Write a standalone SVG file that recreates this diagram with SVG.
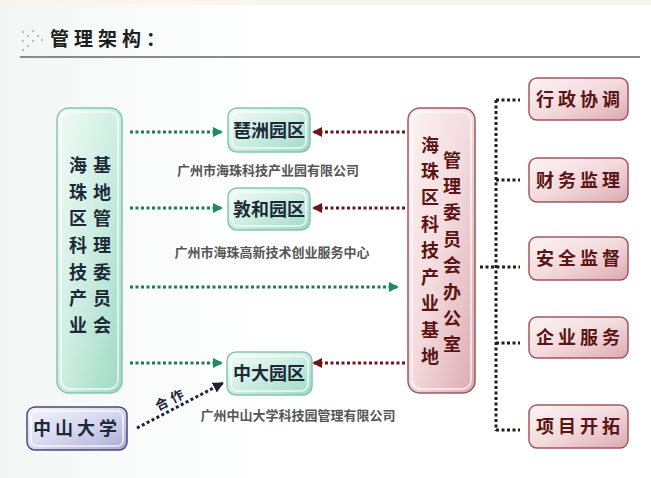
<svg xmlns="http://www.w3.org/2000/svg" width="651" height="478" viewBox="0 0 651 478">
<defs>
<linearGradient id="gg" x1="0" y1="0" x2="1" y2="1">
<stop offset="0" stop-color="#f2fbf7"/><stop offset="0.5" stop-color="#cdeee2"/><stop offset="1" stop-color="#9fd8c4"/>
</linearGradient>
<linearGradient id="pg" x1="0" y1="0" x2="1" y2="1">
<stop offset="0" stop-color="#fdf3f4"/><stop offset="0.5" stop-color="#f3dadd"/><stop offset="1" stop-color="#dcaab0"/>
</linearGradient>
<linearGradient id="vg" x1="0" y1="0" x2="1" y2="1">
<stop offset="0" stop-color="#f4f4fc"/><stop offset="0.5" stop-color="#d8d8f0"/><stop offset="1" stop-color="#a9a9d4"/>
</linearGradient>
<linearGradient id="bg" x1="0" y1="0" x2="1" y2="0">
<stop offset="0" stop-color="#f1f7f5"/><stop offset="0.4" stop-color="#ffffff"/>
</linearGradient>
<marker id="ag" viewBox="0 0 10 10" refX="9" refY="5" markerWidth="10" markerHeight="10" markerUnits="userSpaceOnUse" orient="auto">
<path d="M0,0 L10,5 L0,10 z" fill="#1f8a66"/>
</marker>
<marker id="ar" viewBox="0 0 10 10" refX="9" refY="5" markerWidth="10" markerHeight="10" markerUnits="userSpaceOnUse" orient="auto">
<path d="M0,0 L10,5 L0,10 z" fill="#6e1616"/>
</marker>
<marker id="an" viewBox="0 0 10 10" refX="9" refY="5" markerWidth="11" markerHeight="11" markerUnits="userSpaceOnUse" orient="auto">
<path d="M0,0 L10,5 L0,10 z" fill="#1d2238"/>
</marker>
</defs>
<style>
.cjk{font-family:"Noto Sans CJK SC","Noto Sans",sans-serif;font-weight:bold}
.gbox{fill:url(#gg);stroke:#86c6b0;stroke-width:1.5}
.pbox{fill:url(#pg);stroke:#9c5a60;stroke-width:1.5}
.vbox{fill:url(#vg);stroke:#4a4a7a;stroke-width:1.5}
.inner{fill:none;stroke:#ffffff;stroke-opacity:0.8;stroke-width:1.5}
.gt{fill:#1b2a36;font-size:18px}
.pt{fill:#5a1414;font-size:18px}
.cap{fill:#555555;font-size:13px;font-weight:bold}
.dg{stroke:#1f7a5c;stroke-width:3;stroke-dasharray:3 2.5;fill:none}
.dr{stroke:#6e1616;stroke-width:3;stroke-dasharray:3 2.5;fill:none}
.dk{stroke:#2a1a1a;stroke-width:3;stroke-dasharray:3 2.5;fill:none}
.dn{stroke:#1d2238;stroke-width:3;stroke-dasharray:3 2.5;fill:none}
</style>
<rect width="651" height="478" fill="url(#bg)"/>
<rect width="651" height="5" fill="#fbf5ec"/>
<g id="title">
<g fill="#b8c0c0">
<circle cx="23" cy="32" r="1.2"/><circle cx="28" cy="36" r="1.2"/><circle cx="23" cy="41" r="1.2"/><circle cx="28" cy="46" r="1.2"/><circle cx="23" cy="50" r="1.2"/>
<circle cx="33" cy="31" r="1.2"/><circle cx="38" cy="36" r="1.2"/><circle cx="33" cy="41" r="1.2"/><circle cx="42" cy="40" r="1.2"/>
</g>
<text x="50" y="46" class="cjk" font-size="19" fill="#1e1e1e" letter-spacing="5">管理架构：</text>
<line x1="20" y1="57" x2="640" y2="57" stroke="#8a8a8a" stroke-width="2"/>
</g>
<g id="connectors">
<line class="dg" x1="130" y1="132" x2="222" y2="132" marker-end="url(#ag)"/>
<line class="dg" x1="130" y1="208" x2="222" y2="208" marker-end="url(#ag)"/>
<line class="dg" x1="130" y1="287" x2="398" y2="287" marker-end="url(#ag)"/>
<line class="dg" x1="130" y1="363" x2="222" y2="363" marker-end="url(#ag)"/>
<line class="dr" x1="405" y1="132" x2="313" y2="132" marker-end="url(#ar)"/>
<line class="dr" x1="405" y1="208" x2="313" y2="208" marker-end="url(#ar)"/>
<line class="dr" x1="405" y1="363" x2="313" y2="363" marker-end="url(#ar)"/>
<line class="dk" x1="496" y1="100" x2="496" y2="431"/>
<line class="dk" x1="496" y1="100" x2="520" y2="100"/>
<line class="dk" x1="496" y1="180" x2="520" y2="180"/>
<line class="dk" x1="480" y1="267" x2="520" y2="267"/>
<line class="dk" x1="496" y1="343" x2="520" y2="343"/>
<line class="dk" x1="496" y1="430" x2="520" y2="430"/>
<line class="dn" x1="137" y1="428" x2="223" y2="383" marker-end="url(#an)"/>
<text class="cjk" font-size="13" fill="#1d2238" letter-spacing="4" transform="translate(158,411) rotate(-27)">合作</text>
</g>
<g id="n-jidi">
<rect class="gbox" x="57" y="108" width="65" height="285" rx="12"/>
<rect class="inner" x="61" y="112" width="57" height="277" rx="9"/>
<g class="cjk gt" font-size="19" text-anchor="middle">
<text x="78" y="172">海</text><text x="78" y="199">珠</text><text x="78" y="225">区</text><text x="78" y="252">科</text><text x="78" y="279">技</text><text x="78" y="305">产</text><text x="78" y="332">业</text>
<text x="102" y="172">基</text><text x="102" y="199">地</text><text x="102" y="225">管</text><text x="102" y="252">理</text><text x="102" y="279">委</text><text x="102" y="305">员</text><text x="102" y="332">会</text>
</g>
</g>
<g id="n-pazhou">
<rect class="gbox" x="228" y="108" width="82" height="44" rx="9"/>
<rect class="inner" x="232" y="112" width="74" height="36" rx="7"/>
<text class="cjk gt" x="269" y="137" text-anchor="middle">琶洲园区</text>
<text class="cjk cap" x="268" y="175" text-anchor="middle">广州市海珠科技产业园有限公司</text>
</g>
<g id="n-dunhe">
<rect class="gbox" x="228" y="188" width="82" height="42" rx="9"/>
<rect class="inner" x="232" y="192" width="74" height="34" rx="7"/>
<text class="cjk gt" x="269" y="216" text-anchor="middle">敦和园区</text>
<text class="cjk cap" x="272" y="257" text-anchor="middle">广州市海珠高新技术创业服务中心</text>
</g>
<g id="n-zhongda">
<rect class="gbox" x="227" y="352" width="85" height="43" rx="9"/>
<rect class="inner" x="231" y="356" width="77" height="35" rx="7"/>
<text class="cjk gt" x="269" y="380" text-anchor="middle">中大园区</text>
<text class="cjk cap" x="298" y="420" text-anchor="middle">广州中山大学科技园管理有限公司</text>
</g>
<g id="n-zsu">
<rect class="vbox" x="27" y="407" width="100" height="43" rx="8"/>
<rect class="inner" x="31" y="411" width="92" height="35" rx="6"/>
<text class="cjk gt" x="77" y="435" text-anchor="middle" font-size="19" letter-spacing="4">中山大学</text>
</g>
<g id="n-office">
<rect class="pbox" x="408" y="108" width="67" height="285" rx="12"/>
<rect class="inner" x="412" y="112" width="59" height="277" rx="9"/>
<g class="cjk pt" font-size="19" text-anchor="middle">
<text x="430" y="152">海</text><text x="430" y="178">珠</text><text x="430" y="204">区</text><text x="430" y="231">科</text><text x="430" y="257">技</text><text x="430" y="284">产</text><text x="430" y="310">业</text><text x="430" y="337">基</text><text x="430" y="363">地</text>
<text x="452" y="167">管</text><text x="452" y="193">理</text><text x="452" y="219">委</text><text x="452" y="246">员</text><text x="452" y="272">会</text><text x="452" y="299">办</text><text x="452" y="325">公</text><text x="452" y="351">室</text>
</g>
</g>
<g id="n-xingzheng">
<rect class="pbox" x="529" y="78" width="99" height="42" rx="8"/>
<text class="cjk pt" x="580" y="106" text-anchor="middle" letter-spacing="4">行政协调</text>
</g>
<g id="n-caiwu">
<rect class="pbox" x="529" y="158" width="99" height="44" rx="8"/>
<text class="cjk pt" x="580" y="187" text-anchor="middle" letter-spacing="4">财务监理</text>
</g>
<g id="n-anquan">
<rect class="pbox" x="529" y="237" width="99" height="43" rx="8"/>
<text class="cjk pt" x="580" y="265" text-anchor="middle" letter-spacing="4">安全监督</text>
</g>
<g id="n-qiye">
<rect class="pbox" x="529" y="317" width="99" height="41" rx="8"/>
<text class="cjk pt" x="580" y="344" text-anchor="middle" letter-spacing="4">企业服务</text>
</g>
<g id="n-xiangmu">
<rect class="pbox" x="529" y="405" width="99" height="43" rx="8"/>
<text class="cjk pt" x="580" y="433" text-anchor="middle" letter-spacing="4">项目开拓</text>
</g>
</svg>
